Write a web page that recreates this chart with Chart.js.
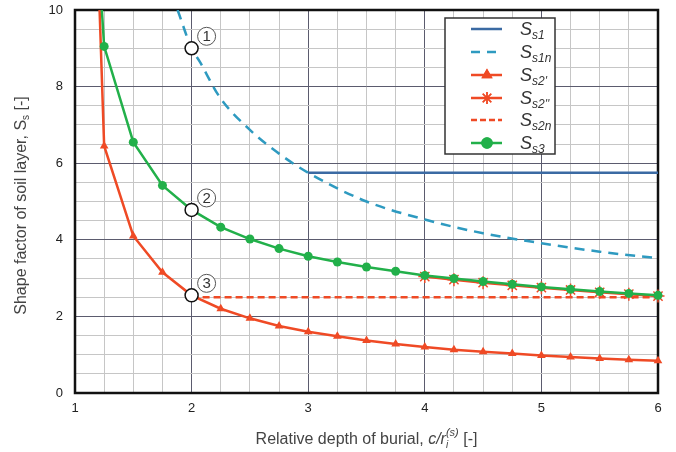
<!DOCTYPE html>
<html>
<head>
<meta charset="utf-8">
<script src="https://cdn.jsdelivr.net/npm/chart.js@4.4.0/dist/chart.umd.min.js"></script>
<style>
html, body { margin: 0; padding: 0; background: #fff; }
#wrap { width: 676px; height: 452px; }
</style>
</head>
<body>
<div id="wrap"><canvas id="chart"></canvas></div>
<script>
const FONT = '"Liberation Sans", Arial, sans-serif';

// Ss1 - solid blue plateau
const xS1 = [3, 6];
const yS1 = [5.75, 5.75];

// Ss1n - dashed teal curve
const xS1n = [1.88, 2, 2.07, 2.24, 2.5, 2.75, 3, 3.5, 4, 4.5, 5, 5.5, 6];
const yS1n = [10, 9.0, 8.65, 7.73, 6.87, 6.25, 5.75, 5.0, 4.53, 4.17, 3.91, 3.69, 3.52];

// Ss2' - red with triangles
const xS2a = [1.2, 1.25, 1.5, 1.75, 2, 2.25, 2.5, 2.75, 3, 3.25, 3.5, 3.75, 4, 4.25, 4.5, 4.75, 5, 5.25, 5.5, 5.75, 6];
const yS2a = [11, 6.45, 4.1, 3.15, 2.55, 2.2, 1.95, 1.75, 1.6, 1.48, 1.37, 1.28, 1.2, 1.13, 1.08, 1.03, 0.98, 0.94, 0.9, 0.87, 0.84];

// Ss2'' - red with stars
const xS2b = [4, 4.25, 4.5, 4.75, 5, 5.25, 5.5, 5.75, 6];
const yS2b = [3.04, 2.96, 2.88, 2.81, 2.75, 2.69, 2.63, 2.58, 2.53];

// Ss2n - red dashed
const xS2n = [2, 6];
const yS2n = [2.5, 2.5];

// Ss3 - green with circles
const xS3 = [1.22, 1.25, 1.5, 1.75, 2, 2.25, 2.5, 2.75, 3, 3.25, 3.5, 3.75, 4, 4.25, 4.5, 4.75, 5, 5.25, 5.5, 5.75, 6];
const yS3 = [10.5, 9.05, 6.55, 5.42, 4.78, 4.33, 4.02, 3.77, 3.57, 3.42, 3.29, 3.18, 3.07, 2.99, 2.91, 2.84, 2.77, 2.71, 2.65, 2.6, 2.55];

// marked points 1, 2, 3
const xMark = [2, 2, 2];
const yMark = [9.0, 4.78, 2.55];
const markLabels = ['1', '2', '3'];

const BLUE = '#3b6aa3';
const TEAL = '#2e9ac0';
const RED = '#ef4a25';
const GREEN = '#22b04a';

function pts(xs, ys) {
    return xs.map((x, i) => ({ x: x, y: ys[i] }));
}

const clipBox = { left: 12, top: 0, right: 12, bottom: 12 };

const legendItems = [
    { sub: 's1', color: BLUE, dash: [], marker: null },
    { sub: 's1n', color: TEAL, dash: [9, 7], marker: null },
    { sub: "s2'", color: RED, dash: [], marker: 'triangle' },
    { sub: "s2''", color: RED, dash: [], marker: 'star' },
    { sub: 's2n', color: RED, dash: [6, 3], marker: null },
    { sub: 's3', color: GREEN, dash: [], marker: 'circle' }
];

// draw text made of runs: [text, font, dy]
function drawRuns(ctx, runs, x, y, align) {
    let total = 0;
    runs.forEach(r => { ctx.font = r[1]; total += ctx.measureText(r[0]).width; });
    let cx = align === 'center' ? x - total / 2 : x;
    ctx.textAlign = 'left';
    ctx.textBaseline = 'alphabetic';
    runs.forEach(r => {
        ctx.font = r[1];
        ctx.fillText(r[0], cx, y + (r[2] || 0));
        cx += ctx.measureText(r[0]).width;
    });
}

function drawMarker(ctx, style, color, x, y) {
    ctx.save();
    ctx.fillStyle = color;
    ctx.strokeStyle = color;
    ctx.lineWidth = 1.5;
    if (Chart.helpers && Chart.helpers.drawPoint) {
        Chart.helpers.drawPoint(ctx, { pointStyle: style, radius: style === 'star' ? 6 : 5, borderWidth: 1.5, rotation: 0 }, x, y);
        ctx.fill();
        ctx.stroke();
    }
    ctx.restore();
}

const decor = {
    id: 'decor',
    beforeDatasetsDraw(chart) {
        const { ctx, chartArea: a } = chart;
        ctx.save();
        ctx.strokeStyle = '#111';
        ctx.lineWidth = 2.5;
        ctx.strokeRect(a.left, a.top, a.right - a.left, a.bottom - a.top);
        ctx.restore();
    },
    afterDatasetsDraw(chart) {
        const { ctx, scales } = chart;
        ctx.save();
        // numbered circles next to marked points
        xMark.forEach((xv, i) => {
            const px = scales.x.getPixelForValue(xv) + 15;
            const py = scales.y.getPixelForValue(yMark[i]) - 12;
            ctx.beginPath();
            ctx.arc(px, py, 9, 0, Math.PI * 2);
            ctx.fillStyle = '#fff';
            ctx.fill();
            ctx.strokeStyle = '#555';
            ctx.lineWidth = 1;
            ctx.stroke();
            ctx.fillStyle = '#333';
            ctx.font = '15px ' + FONT;
            ctx.textAlign = 'center';
            ctx.textBaseline = 'middle';
            ctx.fillText(markLabels[i], px, py + 1);
        });

        // legend box
        const L = 445, T = 18, R = 555, B = 154;
        ctx.fillStyle = '#fff';
        ctx.fillRect(L, T, R - L, B - T);
        ctx.strokeStyle = '#333';
        ctx.lineWidth = 1.5;
        ctx.strokeRect(L, T, R - L, B - T);
        const rows = [29, 52, 75, 98, 120, 143];
        legendItems.forEach((it, i) => {
            const y = rows[i];
            ctx.save();
            ctx.strokeStyle = it.color;
            ctx.lineWidth = 2.5;
            ctx.setLineDash(it.dash);
            ctx.beginPath();
            ctx.moveTo(471, y);
            ctx.lineTo(502, y);
            ctx.stroke();
            ctx.restore();
            if (it.marker) drawMarker(ctx, it.marker, it.color, 487, y);
            ctx.fillStyle = '#333';
            drawRuns(ctx, [
                ['S', 'italic 18px ' + FONT, 0],
                [it.sub, 'italic 12px ' + FONT, 4]
            ], 520, y + 6, 'left');
        });
        ctx.restore();
    },
    afterDraw(chart) {
        const { ctx, chartArea: a } = chart;
        ctx.save();
        ctx.fillStyle = '#444';
        // x title: "Relative depth of burial, c/r_i^(s) [-]"
        const cx = (a.left + a.right) / 2;
        const fN = '16px ' + FONT, fI = 'italic 16px ' + FONT;
        const fSub = 'italic 10px ' + FONT, fSup = 'italic 11px ' + FONT;
        ctx.font = fN;
        const w1 = ctx.measureText('Relative depth of burial, ').width;
        ctx.font = fI;
        const w2 = ctx.measureText('c/r').width;
        ctx.font = fSup;
        const w4 = ctx.measureText('(s)').width;
        ctx.font = fN;
        const w5 = ctx.measureText(' [-]').width;
        const start = cx - (w1 + w2 + w4 + w5) / 2;
        const base = 444;
        ctx.textAlign = 'left';
        ctx.textBaseline = 'alphabetic';
        ctx.font = fN;
        ctx.fillText('Relative depth of burial, ', start, base);
        ctx.font = fI;
        ctx.fillText('c/r', start + w1, base);
        ctx.font = fSub;
        ctx.fillText('i', start + w1 + w2, base + 4);
        ctx.font = fSup;
        ctx.fillText('(s)', start + w1 + w2, base - 8);
        ctx.font = fN;
        ctx.fillText(' [-]', start + w1 + w2 + w4, base);

        // y title
        ctx.translate(26, (a.top + a.bottom) / 2 + 4);
        ctx.rotate(-Math.PI / 2);
        drawRuns(ctx, [
            ['Shape factor of soil layer, S', '16px ' + FONT, 0],
            ['s', '10px ' + FONT, 3],
            [' [-]', '16px ' + FONT, 0]
        ], 0, 0, 'center');
        ctx.restore();
    }
};

const gridColor = (major) => (c) => {
    const v = c.tick ? c.tick.value : 0;
    return major(v) ? '#5b5b6e' : '#c6c6c6';
};

new Chart(document.getElementById('chart'), {
    type: 'line',
    data: {
        datasets: [
            {
                label: 'marks',
                data: pts(xMark, yMark),
                showLine: false,
                pointRadius: 6.5,
                pointBackgroundColor: '#fff',
                pointBorderColor: '#111',
                pointBorderWidth: 1.5,
                clip: clipBox
            },
            {
                label: 'Ss3',
                data: pts(xS3, yS3),
                borderColor: GREEN,
                backgroundColor: GREEN,
                borderWidth: 2.5,
                pointStyle: 'circle',
                pointRadius: (c) => c.dataIndex === 0 ? 0 : 4.5,
                pointBorderWidth: 0,
                tension: 0,
                clip: clipBox
            },
            {
                label: "Ss2''",
                data: pts(xS2b, yS2b),
                borderColor: RED,
                backgroundColor: RED,
                borderWidth: 2.5,
                pointStyle: 'star',
                pointRadius: 6.5,
                pointBorderWidth: 1.5,
                tension: 0,
                clip: clipBox
            },
            {
                label: "Ss2'",
                data: pts(xS2a, yS2a),
                borderColor: RED,
                backgroundColor: RED,
                borderWidth: 2.5,
                pointStyle: 'triangle',
                pointRadius: (c) => c.dataIndex === 0 ? 0 : 5,
                pointBorderWidth: 0,
                tension: 0,
                clip: clipBox
            },
            {
                label: 'Ss2n',
                data: pts(xS2n, yS2n),
                borderColor: RED,
                borderWidth: 2.5,
                borderDash: [7, 4],
                pointRadius: 0,
                clip: clipBox
            },
            {
                label: 'Ss1n',
                data: pts(xS1n, yS1n),
                borderColor: TEAL,
                borderWidth: 2.5,
                borderDash: [10, 7],
                pointRadius: 0,
                cubicInterpolationMode: 'monotone',
                clip: clipBox
            },
            {
                label: 'Ss1',
                data: pts(xS1, yS1),
                borderColor: BLUE,
                borderWidth: 2.5,
                pointRadius: 0,
                clip: clipBox
            }
        ]
    },
    options: {
        responsive: true,
        maintainAspectRatio: false,
        animation: false,
        events: [],
        layout: { padding: { left: 0, top: 10, right: 18, bottom: 0 } },
        plugins: {
            legend: { display: false },
            tooltip: { enabled: false }
        },
        scales: {
            x: {
                type: 'linear',
                min: 1,
                max: 6,
                afterFit: (s) => { s.height = 59; s.paddingLeft = 0; s.paddingRight = 0; },
                ticks: {
                    stepSize: 0.25,
                    autoSkip: false,
                    maxRotation: 0,
                    padding: 8,
                    color: '#222',
                    font: { family: FONT, size: 13 },
                    callback: (v) => Number.isInteger(v) ? String(v) : ''
                },
                grid: {
                    drawTicks: false,
                    color: gridColor((v) => Number.isInteger(v)),
                    lineWidth: 1
                },
                border: { display: false }
            },
            y: {
                min: 0,
                max: 10,
                afterFit: (s) => { s.width = 75; s.paddingTop = 0; s.paddingBottom = 0; },
                ticks: {
                    stepSize: 0.5,
                    autoSkip: false,
                    padding: 12,
                    color: '#222',
                    font: { family: FONT, size: 13 },
                    callback: (v) => (v % 2 === 0) ? String(v) : ''
                },
                grid: {
                    drawTicks: false,
                    color: gridColor((v) => v % 2 === 0),
                    lineWidth: 1
                },
                border: { display: false }
            }
        }
    },
    plugins: [decor]
});
</script>
</body>
</html>
